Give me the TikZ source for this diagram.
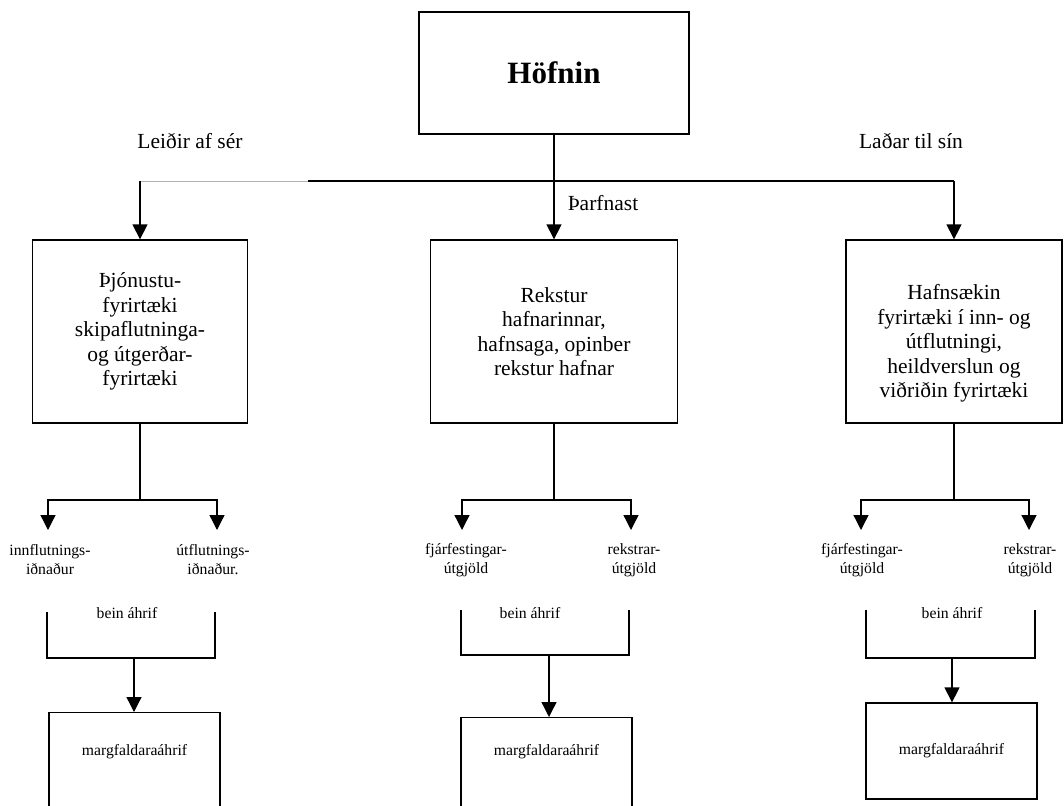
\documentclass[tikz,border=0pt]{standalone}
\usepackage{fontspec}
\setmainfont{Liberation Serif}
\usepackage{tikz}
\usetikzlibrary{arrows.meta,positioning}
\tikzstyle{bx} = [rectangle, draw=black, line width=1.3pt, align=center, inner sep=0pt, font=\fontsize{21.5}{24.5}\selectfont]
\tikzstyle{mb} = [rectangle, draw=black, line width=1.3pt, align=center, inner xsep=0pt, minimum width=171pt, font=\fontsize{15.7}{19}\selectfont]
\tikzstyle{sm} = [align=center, inner sep=0pt, font=\fontsize{15.7}{19}\selectfont]
\tikzstyle{lb} = [inner sep=0pt, font=\fontsize{21.5}{24.5}\selectfont]
\tikzstyle{ar} = [black, line width=1.3pt, -{Triangle[width=15pt,length=15pt]}]
\tikzstyle{pl} = [black, line width=1.3pt]

\begin{document}
\begin{tikzpicture}[x=1pt,y=-1pt]
		\fill[white] (0,0) rectangle (1064,805);
		\useasboundingbox (0,0) rectangle (1064,805);
		\clip (0,0) rectangle (1064,805);

		\node[bx, minimum width=270pt, minimum height=122pt, font=\fontsize{31}{36}\selectfont\bfseries] (hofn) at (554,73) {Höfnin};

		\node[lb] (leid)  at (190,141) {Leiðir af sér};
		\node[lb] (lad)   at (911,141) {Laðar til sín};
		\node[lb] (tharf) at (603,203) {Þarfnast};

		\node[bx, minimum width=215pt, minimum height=183pt] (thjon) at (140,331.5) {Þjónustu-\\fyrirtæki\\skipaflutninga-\\og útgerðar-\\fyrirtæki};
		\node[bx, minimum width=247pt, minimum height=183pt] (rekst) at (554,331.5) {Rekstur\\hafnarinnar,\\hafnsaga, opinber\\rekstur hafnar};
		\node[bx, minimum width=216pt, minimum height=183pt] (hafns) at (954,331.5) {\rule{0pt}{39pt}Hafnsækin\\fyrirtæki í inn- og\\útflutningi,\\heildverslun og\\viðriðin fyrirtæki};

		\coordinate (jl) at (thjon.north |- 0,181);
		\coordinate (jg) at (308,181);
		\coordinate (jm) at (hofn.south |- 0,181);
		\coordinate (jr) at (hafns.north |- 0,181);
		\draw[pl] (hofn.south) -- (jm);
		\draw[gray!60, line width=1pt] (jl) -- (jg);
		\draw[pl] (jg) -- (jr);
		\draw[ar] (jl) -- (thjon.north);
		\draw[ar] (jm) -- (rekst.north);
		\draw[ar] (jr) -- (hafns.north);

		% column 1
		\coordinate (s1)  at (thjon.south |- 0,500);
		\coordinate (t1l) at (48,530);
		\coordinate (t1r) at (217,530);
		\draw[pl] (thjon.south) -- (s1);
		\draw[ar] (s1) -| (t1l);
		\draw[ar] (s1) -| (t1r);
		\node[sm] (inn1) at (50,560)  {innflutnings-\\iðnaður};
		\node[sm] (utf1) at (213,560) {útflutnings-\\iðnaður.};
		\node[sm] (bein1) at (127,613) {bein áhrif};
		\coordinate (k1l) at (47,612);
		\coordinate (k1m) at (134,658);
		\coordinate (k1r) at (215,612);
		\draw[pl] (k1l) |- (k1m) -| (k1r);
		\node[mb, anchor=north, text height=11pt, text depth=45pt, inner ysep=32pt] (marg1) at (134.5,712) {margfaldaraáhrif};
		\draw[ar] (k1m) -- (k1m |- marg1.north);

		% column 2
		\coordinate (s2)  at (rekst.south |- 0,500);
		\coordinate (t2l) at (462,530);
		\coordinate (t2r) at (631,530);
		\draw[pl] (rekst.south) -- (s2);
		\draw[ar] (s2) -| (t2l);
		\draw[ar] (s2) -| (t2r);
		\node[sm] (fjar2) at (466,560) {fjárfestingar-\\útgjöld};
		\node[sm] (rek2)  at (634,560) {rekstrar-\\útgjöld};
		\node[sm] (bein2) at (530,613) {bein áhrif};
		\coordinate (k2l) at (461,610);
		\coordinate (k2m) at (549,655);
		\coordinate (k2r) at (629,610);
		\draw[pl] (k2l) |- (k2m) -| (k2r);
		\node[mb, anchor=north, text height=11pt, text depth=45pt, inner ysep=27pt] (marg2) at (546.5,717) {margfaldaraáhrif};
		\draw[ar] (k2m) -- (k2m |- marg2.north);

		% column 3
		\coordinate (s3)  at (hafns.south |- 0,500);
		\coordinate (t3l) at (861,530);
		\coordinate (t3r) at (1029,530);
		\draw[pl] (hafns.south) -- (s3);
		\draw[ar] (s3) -| (t3l);
		\draw[ar] (s3) -| (t3r);
		\node[sm] (fjar3) at (862,560)  {fjárfestingar-\\útgjöld};
		\node[sm] (rek3)  at (1030,560) {rekstrar-\\útgjöld};
		\node[sm] (bein3) at (952,613) {bein áhrif};
		\coordinate (k3l) at (866,610);
		\coordinate (k3m) at (952,658);
		\coordinate (k3r) at (1035,610);
		\draw[pl] (k3l) |- (k3m) -| (k3r);
		\node[mb, minimum height=96pt, inner ysep=0pt] (marg3) at (951.5,751) {margfaldaraáhrif};
		\draw[ar] (k3m) -- (k3m |- marg3.north);
	\end{tikzpicture}
\end{document}
